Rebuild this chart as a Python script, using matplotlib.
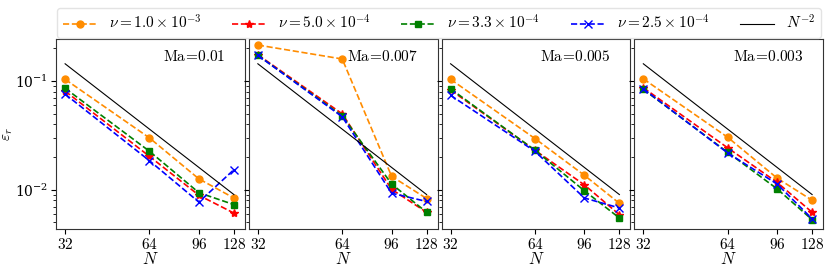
import numpy as np
import matplotlib
matplotlib.use("Agg")
import matplotlib.pyplot as plt
from matplotlib.ticker import FixedLocator, FixedFormatter, NullFormatter

plt.rcParams['mathtext.fontset'] = 'cm'
plt.rcParams['font.family'] = ['DejaVu Serif']

N = [32, 64, 96, 128]
panels = ['Ma=0.01', 'Ma=0.007', 'Ma=0.005', 'Ma=0.003']
labels = [r'$\nu=1.0\times10^{-3}$', r'$\nu=5.0\times10^{-4}$',
          r'$\nu=3.3\times10^{-4}$', r'$\nu=2.5\times10^{-4}$']

# errors per panel, per viscosity series (orange, red, green, blue)
err_ma001 = [
    [0.104, 0.0300, 0.0126, 0.0084],
    [0.081, 0.0203, 0.0089, 0.0061],
    [0.086, 0.0226, 0.0094, 0.0073],
    [0.076, 0.0185, 0.0077, 0.0153],
]
err_ma0007 = [
    [0.215, 0.160, 0.0133, 0.0083],
    [0.175, 0.050, 0.0101, 0.0062],
    [0.173, 0.048, 0.0113, 0.0062],
    [0.173, 0.047, 0.0093, 0.0078],
]
err_ma0005 = [
    [0.104, 0.0296, 0.0136, 0.0075],
    [0.083, 0.0231, 0.0111, 0.0059],
    [0.085, 0.0231, 0.0098, 0.0055],
    [0.074, 0.0226, 0.0084, 0.0068],
]
err_ma0003 = [
    [0.105, 0.0304, 0.0128, 0.0080],
    [0.087, 0.0243, 0.0117, 0.0062],
    [0.084, 0.0221, 0.0102, 0.0053],
    [0.085, 0.0218, 0.0113, 0.0054],
]
ref_coeff = 148.0  # N^-2 reference line coefficient

all_err = [err_ma001, err_ma0007, err_ma0005, err_ma0003]
colors = ['darkorange', 'red', 'green', 'blue']
markers = ['o', '*', 's', 'x']
msizes = [5, 6, 5, 6]

fig, axes = plt.subplots(1, 4, figsize=(8.3, 2.72), dpi=100, sharey=True)
fig.subplots_adjust(left=0.0675, right=0.9916, top=0.857, bottom=0.158, wspace=0.021)

Nref = np.array(N, dtype=float)
for ax, name, errs in zip(axes, panels, all_err):
    for e, c, m, ms, lab in zip(errs, colors, markers, msizes, labels):
        ax.plot(N, e, ls='--', color=c, marker=m, ms=ms, lw=1.2, label=lab)
    ax.plot(Nref, ref_coeff / Nref**2, color='black', lw=0.8, label=r'$N^{-2}$')
    ax.set_xscale('log', base=2)
    ax.set_yscale('log')
    ax.set_xlim(29.7, 140)
    ax.set_ylim(0.00435, 0.245)
    ax.xaxis.set_major_locator(FixedLocator(N))
    ax.xaxis.set_major_formatter(FixedFormatter([r'$%d$' % n for n in N]))
    ax.xaxis.set_minor_formatter(NullFormatter())
    ax.tick_params(axis='x', labelsize=11, pad=2.5)
    ax.tick_params(axis='y', labelsize=10, pad=2.5)
    ax.set_xlabel(r'$N$', fontsize=12, labelpad=-1)
    ax.text(0.895, 0.905, r'$\mathrm{Ma}\!=\!%s$' % name.split('=')[1], transform=ax.transAxes,
            ha='right', va='center', fontsize=11)
    for s in ax.spines.values():
        s.set_color('#333333')

axes[0].set_ylabel(r'$\varepsilon_r$', fontsize=11)
axes[0].yaxis.set_label_coords(-0.215, 0.5)
handles, labs = axes[0].get_legend_handles_labels()
fig.legend(handles, labs, loc='upper center', bbox_to_anchor=(0.529, 1.0), ncol=5,
           fontsize=11, frameon=True, handlelength=2.2, columnspacing=2.0,
           borderpad=0.4, handletextpad=0.8, edgecolor='#dddddd', fancybox=True)

fig.savefig('out.png', dpi=100)
